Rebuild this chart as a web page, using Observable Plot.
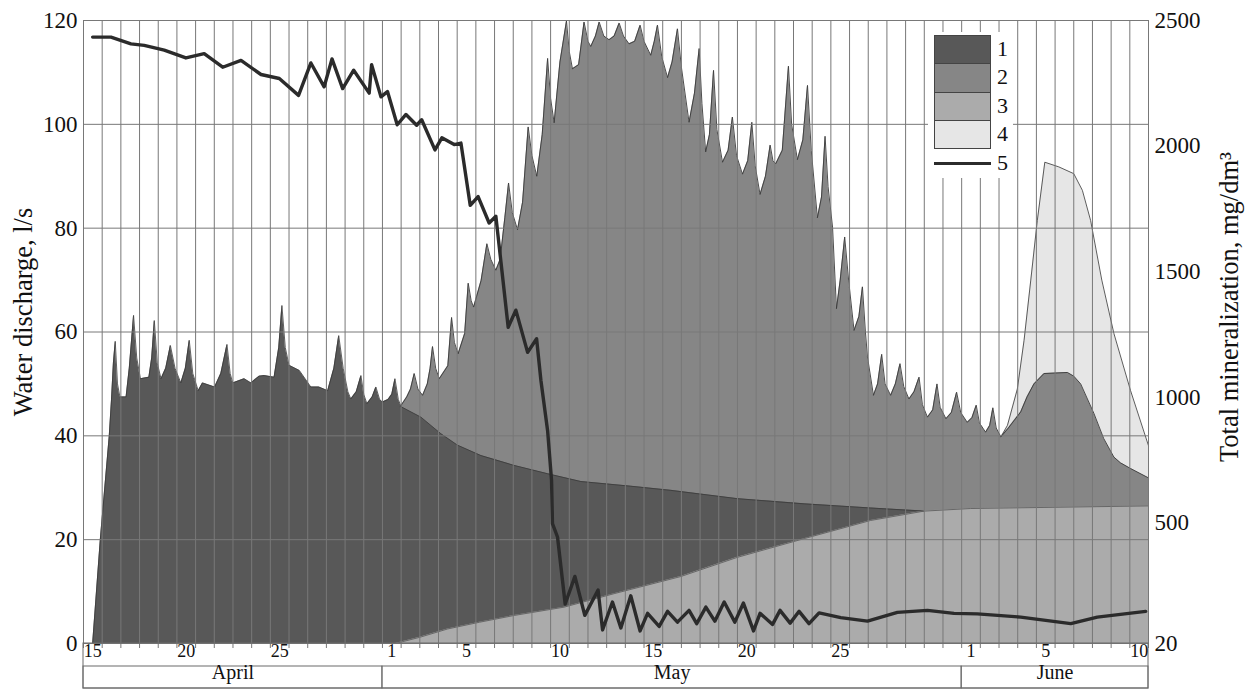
<!DOCTYPE html>
<html>
<head>
<meta charset="utf-8">
<script src="https://cdn.jsdelivr.net/npm/d3@7"></script>
<script src="https://cdn.jsdelivr.net/npm/@observablehq/plot@0.6"></script>
<style>
  body { margin: 0; background: #fff; }
  #wrap { position: relative; width: 1246px; height: 690px; font-family: "Liberation Serif", "Times New Roman", serif; }
  #legend { position: absolute; left: 928px; top: 32px; width: 85px; height: 146px; background: #fff; }
  #legend .box { position: absolute; left: 6px; width: 55px; height: 27.3px; border: 1px solid #444; box-sizing: content-box; }
  #legend .lab { position: absolute; left: 69px; font-size: 22px; line-height: 22px; color: #111; }
  #legend .ln { position: absolute; left: 6px; width: 57px; height: 3.5px; background: #2b2b2b; }
</style>
</head>
<body>
<div id="wrap"></div>
<script>
// ---- period & labels ----
const periodStart = "2000-04-15";
const periodEnd = "2000-06-11";
const leftTicks = [0, 20, 40, 60, 80, 100, 120];
const rightTicks = [20, 500, 1000, 1500, 2000, 2500];
const rightMax = 2500, rightMin = 20;
const dayTickDates = ["2000-04-15","2000-04-20","2000-04-25","2000-05-01","2000-05-05","2000-05-10",
                      "2000-05-15","2000-05-20","2000-05-25","2000-06-01","2000-06-05","2000-06-10"];
const monthNames = ["April", "May", "June"];
const monthStarts = ["2000-04-15", "2000-05-01", "2000-06-01"];
const monthEnds = ["2000-05-01", "2000-06-01", "2000-06-11"];
const legendLabels = ["1", "2", "3", "4", "5"];
const yTitle = "Water discharge, l/s";
const y2Title = "Total mineralization, mg/dm³";

// ---- data: [days since 15 April 00:00, value] ----
// 1: upper boundary of component 1 (stacked above component 3), l/s
const comp1Top = [[0.49,0],[0.9,20],[1.38,40],[1.5,47],[1.6,54],[1.70,58.2],[1.82,50],[1.95,47.5],[2.28,47.5],[2.45,53],[2.68,63.2],[2.85,55],[3.05,51],[3.5,51.3],[3.65,55],[3.79,62.2],[3.95,54],[4.15,51],[4.4,53],[4.65,57.4],[4.9,53],[5.21,50.2],[5.45,53],[5.66,58.4],[5.85,52],[6.14,48.7],[6.37,50.2],[7.02,49.4],[7.35,52],[7.68,57.6],[7.85,52],[7.99,50.2],[8.6,51],[8.96,50.2],[9.4,51.5],[9.67,51.6],[10.2,51.3],[10.45,57],[10.62,65.1],[10.8,57],[11.0,53.6],[11.55,52.6],[12.17,49.4],[12.6,49.4],[13.07,48.7],[13.4,53],[13.66,59.3],[13.9,53],[14.15,48.5],[14.31,47.1],[14.6,48.5],[14.85,51.6],[15.0,48],[15.17,46.2],[15.45,47.5],[15.65,49.4],[15.85,47],[16.0,46.5],[16.3,47],[16.5,48],[16.67,51],[16.85,47],[17.0,45.6],[18.06,43.6],[19.13,40.4],[20.02,38.2],[21.27,36.2],[23.05,34.3],[24.84,32.7],[26.62,31.2],[29.29,30.3],[31.43,29.5],[35.0,27.9],[38.57,26.9],[42.13,26.1],[44.99,25.5]];
// 2: total discharge (component 2 on top), l/s
const comp2Top = [[16.95,45.6],[17.3,47.5],[17.5,49],[17.70,52.0],[17.9,49],[18.15,47.8],[18.4,50],[18.55,53],[18.68,57.2],[18.85,53],[19.04,51.0],[19.5,53.5],[19.70,62.8],[19.85,58],[20.05,55.8],[20.4,59.7],[20.59,69.4],[20.75,66],[20.88,64.8],[21.28,69.9],[21.59,77.0],[21.8,74],[22.07,71.9],[22.3,74],[22.55,82],[22.75,88.7],[22.95,83],[23.23,79.7],[23.5,85],[23.80,99.5],[24.0,94],[24.26,90.0],[24.55,98],[24.84,112.7],[25.0,105],[25.19,100.3],[25.5,112],[25.85,119.9],[26.0,114],[26.17,110.7],[26.5,111.5],[26.79,119.7],[27.0,116],[27.15,115],[27.4,117],[27.60,119.7],[27.85,117],[28.13,116.3],[28.4,117],[28.67,119.5],[28.9,117],[29.2,115.5],[29.5,116],[29.79,119.1],[30.0,116],[30.36,113.3],[30.55,116],[30.72,119.1],[30.95,113],[31.26,109.0],[31.5,112],[31.79,118.4],[32.0,111],[32.41,100.4],[32.7,106],[32.95,114.6],[33.1,104],[33.3,94.7],[33.5,98],[33.72,110.4],[33.9,99],[34.2,92.7],[34.5,95],[34.73,101.4],[34.95,94],[35.27,90.4],[35.55,93],[35.77,100.4],[35.95,92],[36.21,86.5],[36.5,90],[36.75,96.0],[36.9,93],[37.05,92.4],[37.4,95],[37.73,111.2],[37.9,100],[38.21,93.2],[38.5,97],[38.75,107.5],[38.95,95],[39.28,82.0],[39.5,86],[39.69,97.7],[39.85,88],[40.09,80.2],[40.30,64.5],[40.5,70],[40.74,78.3],[40.95,70],[41.24,60.3],[41.5,63],[41.69,68.7],[41.85,60],[41.96,55.2],[42.28,47.8],[42.5,50],[42.72,55.7],[42.9,50],[43.2,47.8],[43.45,50],[43.70,53.9],[43.9,49.5],[44.18,47.1],[44.45,48.5],[44.72,51.3],[44.9,46],[45.17,43.6],[45.45,45],[45.68,50.0],[45.85,45.5],[46.16,43.3],[46.45,44.5],[46.73,48.4],[46.95,44.5],[47.3,42.6],[47.55,43.5],[47.78,45.9],[47.95,42.5],[48.28,40.7],[48.5,42],[48.67,45.4],[48.85,41.5],[49.1,39.8],[49.5,41.5],[50.16,44.6],[50.5,47.5],[50.87,50.0],[51.41,52.0],[52.66,52.2],[53.0,51.5],[53.37,50.0],[54.08,44.3],[54.6,39.5],[55.15,35.9],[55.5,34.8],[56.04,33.7],[57.0,31.9]];
// 3: component 3 (bottom layer), l/s
const comp3Top = [[16.7,0],[18.0,1.2],[19.49,2.8],[21.2,4.1],[23.05,5.4],[25.72,7.0],[28.40,9.6],[31.97,12.9],[35.0,16.6],[38.57,20.2],[42.13,23.7],[44.99,25.5],[47.48,26.0],[57.0,26.5]];
// 4: component 4 (upper boundary), l/s
const comp4Top = [[49.1,39.8],[49.45,42],[49.98,49],[50.34,58.4],[50.7,70],[51.05,81.5],[51.45,92.7],[52.2,91.8],[53.0,90.5],[53.46,87.3],[53.90,81.5],[54.5,70],[55.15,59.7],[56.04,48.7],[57.0,38.1]];
// 5: total mineralization, mg/dm3
const mineralization = [[0.49,2434],[1.47,2434],[2.54,2407],[3.25,2401],[4.32,2382],[5.48,2351],[6.46,2368],[7.45,2314],[8.43,2341],[9.50,2285],[10.48,2269],[11.51,2202],[12.17,2331],[12.88,2236],[13.30,2347],[13.87,2229],[14.46,2302],[15.29,2211],[15.42,2324],[15.92,2196],[16.27,2217],[16.79,2085],[17.26,2126],[17.83,2083],[18.1,2105],[18.81,1985],[19.18,2033],[19.84,2006],[20.2,2012],[20.70,1764],[21.12,1799],[21.71,1694],[22.07,1721],[22.73,1279],[23.14,1347],[23.77,1179],[24.25,1233],[24.48,1068],[24.84,867],[25.05,669],[25.10,497],[25.37,444],[25.78,177],[26.30,287],[26.83,132],[27.54,233],[27.78,74],[28.31,185],[28.76,82],[29.29,210],[29.79,70],[30.19,140],[30.81,88],[31.26,148],[31.79,105],[32.41,152],[32.82,99],[33.31,165],[33.79,109],[34.29,185],[34.86,105],[35.32,181],[35.86,70],[36.21,140],[36.88,96],[37.28,152],[37.82,101],[38.30,148],[38.83,99],[39.37,142],[40.53,123],[41.96,109],[43.56,144],[45.17,152],[46.59,140],[47.84,138],[50.16,125],[52.84,99],[54.26,125],[56.85,148]];

const fills = ["#585858", "#868686", "#ababab", "#e6e6e6"];
const gridColor = "#787878";

// ---- derived (through dates) ----
const startDate = new Date(periodStart);
const dayOf = s => d3.utcDay.count(startDate, new Date(s));
const periodDays = dayOf(periodEnd);
const dayBoundaries = d3.range(0, periodDays + 1);
const dayTicks = dayTickDates.map(s => ({t: dayOf(s) + 0.5, label: String(new Date(s).getUTCDate())}));
const months = monthNames.map((name, i) => ({name, a: dayOf(monthStarts[i]), b: dayOf(monthEnds[i])}));
const mgToLeft = m => (m - rightMin) * 120 / (rightMax - rightMin);

const X = d => d[0], Y = d => d[1];

const chart = Plot.plot({
  width: 1246,
  height: 690,
  marginLeft: 83,
  marginRight: 98,
  marginTop: 20,
  marginBottom: 47,
  style: {fontFamily: '"Liberation Serif", "Times New Roman", serif', background: "#fff", color: "#111"},
  x: {domain: [0, periodDays], axis: null},
  y: {domain: [0, 120], axis: null},
  marks: [
    Plot.areaY(comp4Top, {x: X, y: Y, fill: fills[3]}),
    Plot.areaY(comp2Top, {x: X, y: Y, fill: fills[1]}),
    Plot.areaY(comp1Top, {x: X, y: Y, fill: fills[0]}),
    Plot.areaY(comp3Top, {x: X, y: Y, fill: fills[2]}),
    Plot.line(comp4Top, {x: X, y: Y, stroke: "#4a4a4a", strokeWidth: 0.9}),
    Plot.line(comp2Top, {x: X, y: Y, stroke: "#3a3a3a", strokeWidth: 0.9}),
    Plot.line(comp1Top, {x: X, y: Y, stroke: "#3a3a3a", strokeWidth: 0.8}),
    Plot.line(comp3Top, {x: X, y: Y, stroke: "#555", strokeWidth: 0.8}),
    // grid
    Plot.ruleX(dayBoundaries, {x: d => d, stroke: gridColor, strokeWidth: 1}),
    Plot.ruleY(leftTicks, {y: d => d, stroke: gridColor, strokeWidth: 1}),
    // mineralization line
    Plot.line(mineralization, {x: X, y: d => mgToLeft(d[1]), stroke: "#2b2b2b", strokeWidth: 3.4, strokeLinejoin: "round"}),
    // small day ticks below the axis
    Plot.ruleX(dayBoundaries, {x: d => d, y1: d => 0, y2: d => 0, insetBottom: -5, stroke: gridColor}),
    // bottom band (tick row + month row)
    Plot.rect([periodDays], {x1: d => 0, x2: d => d, y1: d => 0, y2: d => 0, insetTop: 0, insetBottom: -45, fill: "none", stroke: "#6a6a6a"}),
    Plot.rect(months, {x1: "a", x2: "b", y1: d => 0, y2: d => 0, insetTop: 23, insetBottom: -45, fill: "none", stroke: "#6a6a6a"}),
    // tick labels
    Plot.text(leftTicks, {y: d => d, text: d => String(d), frameAnchor: "left", dx: -6, textAnchor: "end", fontSize: 23, fill: "#111"}),
    Plot.text(rightTicks, {y: d => mgToLeft(d), text: d => String(d), frameAnchor: "right", dx: 6, textAnchor: "start", fontSize: 23, fill: "#111"}),
    Plot.text(dayTicks, {x: "t", text: "label", frameAnchor: "bottom", dy: 13, fontSize: 18, fill: "#111"}),
    Plot.text(months, {x: d => (d.a + d.b) / 2, text: "name", frameAnchor: "bottom", dy: 35, fontSize: 20, fill: "#111"}),
    // axis titles
    Plot.text([yTitle], {text: d => d, frameAnchor: "left", textAnchor: "middle", dx: -60, dy: -20, rotate: -90, fontSize: 26.5, fill: "#111"}),
    Plot.text([y2Title], {text: d => d, frameAnchor: "right", textAnchor: "middle", dx: 81, dy: -25, rotate: -90, fontSize: 26.5, fill: "#111"})
  ]
});
const wrap = document.getElementById("wrap");
wrap.appendChild(chart);

// legend overlay
const legend = document.createElement("div");
legend.id = "legend";
let html = "";
for (let i = 0; i < 4; i++) {
  html += `<div class="box" style="top:${3 + i * 28.3}px;background:${fills[i]}"></div>`;
  html += `<div class="lab" style="top:${6 + i * 28.3}px">${legendLabels[i]}</div>`;
}
html += `<div class="ln" style="top:129.5px"></div>`;
html += `<div class="lab" style="top:120px">${legendLabels[4]}</div>`;
legend.innerHTML = html;
wrap.appendChild(legend);
</script>
</body>
</html>
